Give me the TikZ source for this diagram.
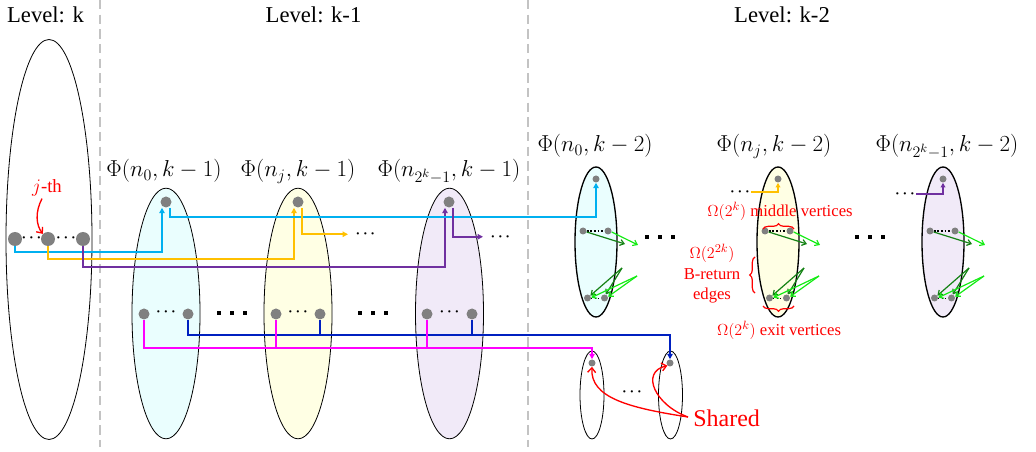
\documentclass[tikz,border=0pt]{standalone}
\usepackage{fontspec}
\setmainfont{Liberation Serif}
\usetikzlibrary{shapes.geometric,arrows.meta,calc,decorations.pathreplacing}
\definecolor{vgray}{RGB}{128,128,128}
\definecolor{cyl}{RGB}{0,176,240}
\definecolor{yel}{RGB}{255,192,0}
\definecolor{pul}{RGB}{112,48,160}
\definecolor{bll}{RGB}{0,32,192}
\definecolor{mal}{RGB}{255,0,255}
\definecolor{dgr}{RGB}{20,130,20}
\definecolor{bgr}{RGB}{20,235,20}
\definecolor{cyf}{RGB}{234,254,254}
\definecolor{yef}{RGB}{255,255,228}
\definecolor{puf}{RGB}{241,234,248}
\definecolor{sepg}{RGB}{195,195,195}
\definecolor{myred}{RGB}{255,0,0}
\begin{document}
\begin{tikzpicture}[x=0.75pt,y=-0.75pt,
  ellk/.style={ellipse, draw=black, line width=0.6pt, inner sep=0pt, minimum width=64.5pt, minimum height=300pt},
  ella/.style={ellipse, draw=black, line width=0.6pt, inner sep=0pt, minimum width=51pt, minimum height=188pt},
  ellc/.style={ellipse, draw=black, line width=1pt, inner sep=0pt, minimum width=31.5pt, minimum height=112.5pt},
  ells/.style={ellipse, draw=black, line width=0.6pt, inner sep=0pt, minimum width=18pt, minimum height=66pt},
  vk/.style={circle, fill=vgray, inner sep=0pt, minimum size=10.5pt},
  va/.style={circle, fill=vgray, inner sep=0pt, minimum size=8.25pt},
  vc/.style={circle, fill=vgray, inner sep=0pt, minimum size=5.25pt},
  conn/.style={line width=1.35pt, -{Triangle[length=4pt,width=4pt]}},
  conn2/.style={line width=1pt, -{Triangle[length=3.5pt,width=3.5pt]}},
  plain/.style={line width=1.35pt},
  garr/.style={line width=0.9pt, -{Straight Barb[length=3pt,width=4.5pt]}},
  redarr/.style={myred, line width=1pt, -{Straight Barb[length=3.5pt,width=6pt]}},
  sep/.style={sepg, line width=1.6pt, dash pattern=on 7pt off 4pt},
  lbl/.style={font=\fontsize{17}{20}\selectfont, anchor=base, inner sep=0pt},
  phi/.style={font=\fontsize{18}{20}\selectfont, anchor=base, inner sep=0pt},
  sdots/.style={text=black, font=\fontsize{11}{12}\selectfont\boldmath, inner sep=1pt},
  ann/.style={text=myred, font=\fontsize{12.5}{15.5}\selectfont, align=center, inner sep=0pt},
  rbrace/.style={myred, line width=0.9pt, decorate, decoration={brace, amplitude=4pt}}
]
\path[use as bounding box] (0,0) rectangle (1036,452);

% separators
\draw[sep] (100,0) -- (100,447);
\draw[sep] (528,0) -- (528,447);

% level labels
\node[lbl] (L0) at (45.5,22.5) {Level: k};
\node[lbl] (L1) at (313.5,22.5) {Level: k-1};
\node[lbl] (L2) at (782,22.5) {Level: k-2};

% level k
\node[ellk] (E0) at (49,239.5) {};
\node[vk] (k1) at (15,239) {};
\node[vk] (k2) at (48,239) {};
\node[vk] (k3) at (83,239) {};
\node[sdots] (kd1) at (31.5,238) {$\cdots$};
\node[sdots] (kd2) at (66,238) {$\cdots$};
\node[text=myred, font=\fontsize{14}{16}\selectfont, inner sep=0pt] (jth) at (47,188) {$j$-th};

% level k-1
\node[ella, fill=cyf] (A1) at (166,313.5) {};
\node[ella, fill=yef] (A2) at (298,313.5) {};
\node[ella, fill=puf] (A3) at (449.5,313.5) {};
\node[va] (a1t) at (166,202) {};
\node[va] (a2t) at (298,202) {};
\node[va] (a3t) at (449,202) {};
\node[va] (a1l) at (144,314) {};
\node[va] (a1r) at (188,314) {};
\node[va] (a2l) at (276,314) {};
\node[va] (a2r) at (320,314) {};
\node[va] (a3l) at (427,314) {};
\node[va] (a3r) at (472,314) {};
\node[sdots] (ad1) at (166,312) {$\cdots$};
\node[sdots] (ad2) at (298,312) {$\cdots$};
\node[sdots] (ad3) at (449.5,312) {$\cdots$};
\foreach \x in {232,373}{
  \foreach \dx in {-13,0,13}{
    \fill (\x+\dx-2.2,313-2.2) rectangle ++(4.4,4.4);
  }
}
\node[phi] (P1) at (164,177) {$\Phi(n_0,k-1)$};
\node[phi] (P2) at (298,177) {$\Phi(n_j,k-1)$};
\node[phi] (P3) at (449,177) {$\Phi(n_{2^k-1},k-1)$};

% level k-2
\foreach \i/\cx/\f in {1/596/cyf,2/778/yef,3/943/puf}{
  \node[ellc, fill=\f] (C\i) at (\cx,242) {};
  \node[vc] (ct\i) at (\cx,179) {};
  \node[vc] (cma\i) at (\cx-13,231) {};
  \node[vc] (cmb\i) at (\cx+12,231) {};
  \node[vc] (cba\i) at (\cx-8.5,298) {};
  \node[vc] (cbb\i) at (\cx+8.5,298) {};
  \draw[line width=1.4pt, dash pattern=on 1.4pt off 1.3pt] (cma\i.east) -- (cmb\i.west);
  \draw[line width=0.5pt, dotted] (cba\i.east) -- (cbb\i.west);
  \coordinate (ge\i) at (\cx+29,244);
  \coordinate (gf\i) at (\cx+42,245);
  \coordinate (gd\i) at (\cx+26,268);
  \coordinate (gb\i) at (\cx+41,276);
  \draw[garr, dgr] (cma\i.-15) -- (ge\i);
  \draw[garr, bgr] (cmb\i.-15) -- (gf\i);
  \draw[garr, dgr] (gd\i) -- (cba\i.40);
  \draw[garr, dgr] (gd\i) -- (cbb\i.70);
  \draw[garr, bgr] (gb\i) -- (cba\i.5);
  \draw[garr, bgr] (gb\i) -- (cbb\i.20);
}
\foreach \x in {660,870}{
  \foreach \dx in {-13,0,13}{
    \fill (\x+\dx-2.2,237-2.2) rectangle ++(4.4,4.4);
  }
}
\node[phi] (Q1) at (595,152) {$\Phi(n_0,k-2)$};
\node[phi] (Q2) at (774,152) {$\Phi(n_j,k-2)$};
\node[phi] (Q3) at (947,152) {$\Phi(n_{2^k-1},k-2)$};

% shared ellipses
\node[ells] (S1) at (592,395) {};
\node[ells] (S2) at (670.5,395) {};
\node[vc] (s1v) at (592,363) {};
\node[vc] (s2v) at (670,363) {};
\node[sdots] (sd) at (632,392) {$\cdots$};
\node[text=myred, font=\fontsize{18}{20}\selectfont, inner sep=0pt, anchor=west] (sh) at (693,418) {Shared};

% connectors level k -> k-1
\draw[conn, cyl] (k1.south) -- ++(0,6) -| ($(a1t.south)+(-4,0)$);
\draw[conn, yel] (k2.south) -- ++(0,13) -| ($(a2t.south)+(-4,0)$);
\draw[conn, pul] (k3.south) -- ++(0,21) -| ($(a3t.south)+(-4,0)$);

% connectors level k-1 -> k-2
\draw[conn, cyl] ($(a1t.south)+(4,0)$) -- ++(0,9.5) -| (ct1.south);
\draw[conn, yel] ($(a2t.south)+(4,0)$) -- ++(0,26.5) -- ++(46,0) node[sdots, anchor=west, xshift=4pt] (yd1) {$\cdots$};
\draw[conn, pul] ($(a3t.south)+(4,0)$) -- ++(0,29) -- ++(30,0) node[sdots, anchor=west, xshift=4pt] (pd1) {$\cdots$};

\node[sdots] (yd) at (740,192) {$\cdots$};
\draw[conn2, yel] (yd.east) -| (ct2.south);
\node[sdots] (pd) at (905,194) {$\cdots$};
\draw[conn2, pul] (pd.east) -| (ct3.south);

% bottom connectors to shared
\draw[plain, bll] (a2r.south) -- ++(0,15);
\draw[plain, bll] (a3r.south) -- ++(0,15);
\draw[conn, bll] (a1r.south) -- ++(0,15) -| (s2v.north);
\draw[plain, mal] (a2l.south) -- ++(0,28);
\draw[plain, mal] (a3l.south) -- ++(0,28);
\draw[conn, mal] (a1l.south) -- ++(0,28) -| (s1v.north);

% red arrows
\draw[redarr] ($(jth.south)+(-5,2)$) .. controls (35,212) and (36,225) .. (k2.north west);
\draw[redarr] ($(sh.west)+(-5,-1)$) .. controls (630,408) and (590,398) .. (s1v.south);
\draw[redarr] ($(sh.west)+(-5,-1)$) .. controls (655,405) and (640,372) .. (s2v.south west);

% annotations
\node[ann] (m1) at (780,211) {$\Omega(2^k)$ middle vertices};
\node[ann] (m2) at (712,274) {$\Omega(2^{2k})$\\B-return\\edges};
\node[ann] (m3) at (779,330) {$\Omega(2^k)$ exit vertices};
\draw[rbrace] (763,229) -- (794,229);
\draw[rbrace] (755,293) -- (755,257);
\draw[rbrace] (794,306) -- (763,306);
\end{tikzpicture}
\end{document}
